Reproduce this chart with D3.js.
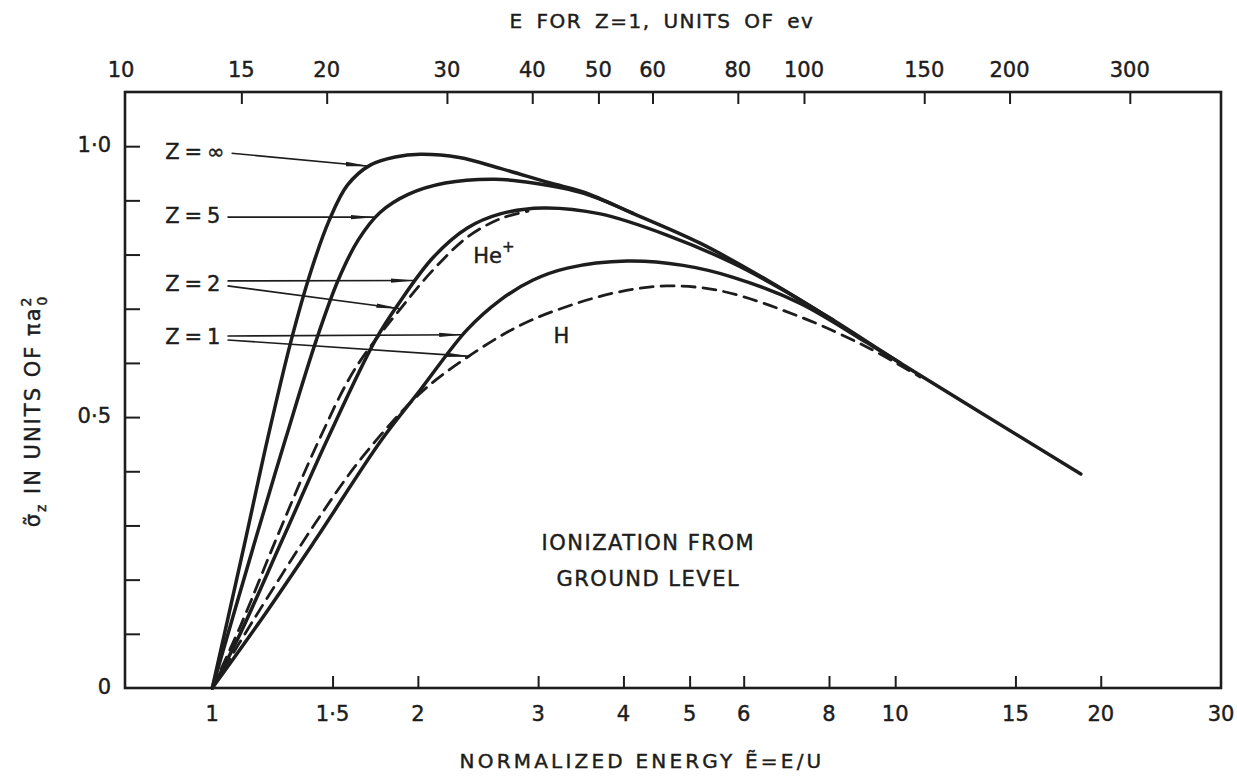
<!DOCTYPE html>
<html>
<head>
<meta charset="utf-8">
<title>ionization from ground level</title>
<script src="https://d3js.org/d3.v7.min.js"></script>
<style>
  body { margin: 0; background: #fff; }
  text { font-family: "DejaVu Sans", sans-serif; fill: #1d1d1d; stroke: #1d1d1d; stroke-width: 0.45px; }
  .tick line { stroke: #1d1d1d; stroke-width: 2; }
</style>
</head>
<body>
<div id="chart"></div>
<script>
// normalized energy E/U and cross section (units of pi a0^2)
var zInfE = [1, 1.118, 1.204, 1.305, 1.396, 1.483, 1.577, 1.703, 1.853, 2.016, 2.3, 2.64, 3.125, 3.5, 4.13, 5.18, 6.49, 8.11, 10.17, 18.7];
var zInfS = [0, 0.273, 0.458, 0.642, 0.771, 0.863, 0.928, 0.965, 0.980, 0.985, 0.979, 0.959, 0.932, 0.915, 0.876, 0.821, 0.753, 0.679, 0.600, 0.395];

var z5E = [1, 1.156, 1.279, 1.42, 1.529, 1.636, 1.762, 1.936, 2.193, 2.596, 2.95, 3.5, 4.13];
var z5S = [0, 0.273, 0.458, 0.642, 0.753, 0.827, 0.878, 0.911, 0.932, 0.939, 0.932, 0.913, 0.876];

var z2E = [1, 1.088, 1.266, 1.473, 1.733, 1.885, 2.107, 2.363, 2.64, 3.05, 3.70, 4.63, 5.79, 6.8, 8.11];
var z2S = [0, 0.089, 0.273, 0.458, 0.642, 0.714, 0.795, 0.849, 0.875, 0.886, 0.875, 0.836, 0.784, 0.737, 0.679];

var heE = [1, 1.10, 1.25, 1.43, 1.62, 1.90, 2.107, 2.363, 2.64, 2.9];
var heS = [0, 0.115, 0.285, 0.455, 0.59, 0.705, 0.772, 0.832, 0.866, 0.88];

var z1E = [1, 1.2, 1.415, 1.77, 2.016, 2.36, 2.64, 2.95, 3.31, 4.05, 4.89, 5.79, 7.26, 9.1, 10.17];
var z1S = [0, 0.14, 0.273, 0.458, 0.55, 0.661, 0.716, 0.753, 0.775, 0.788, 0.780, 0.758, 0.710, 0.637, 0.600];

var hE = [1, 1.156, 1.415, 1.658, 2.016, 2.36, 2.82, 3.34, 3.94, 4.63, 5.55, 7.26, 9.1, 10.88];
var hS = [0, 0.131, 0.304, 0.426, 0.544, 0.610, 0.669, 0.706, 0.731, 0.742, 0.733, 0.685, 0.629, 0.574];

var bottomLabels = [1, 1.5, 2, 3, 4, 5, 6, 8, 10, 15, 20, 30];
var bottomTicks = [1.5, 2, 3, 4, 5, 6, 8, 10, 15, 20];
var topLabels = [10, 15, 20, 30, 40, 50, 60, 80, 100, 150, 200, 300];
var topTicks = [15, 20, 30, 40, 50, 60, 80, 100, 150, 200, 300];
var leftTicks = [0.1, 0.2, 0.3, 0.4, 0.5, 0.6, 0.7, 0.8, 0.9, 1.0];
var leftLabels = [0, 0.5, 1.0];

// Z labels and where their arrows point
var zNames = ["Z=\u221e", "Z=5", "Z=2", "Z=1"];
var zLabelS = [0.987, 0.869, 0.744, 0.646];
var arrowOf = [0, 1, 2, 2, 3, 3];
var arrowE = [1.70, 1.73, 1.98, 1.885, 2.33, 2.385];
var arrowS = [0.963, 0.869, 0.752, 0.70, 0.652, 0.612];
var arrowDy = [0, 0, -4, 1, -2, 2];

var margin = {top: 92, right: 16, bottom: 88, left: 125},
    width = 1237 - margin.left - margin.right,
    height = 776 - margin.top - margin.bottom;

var x = d3.scaleLog().domain([0.745, 30]).range([0, width]);
var xTop = d3.scaleLog().domain([0.745 * 13.6, 30 * 13.6]).range([0, width]);
var y = d3.scaleLinear().domain([0, 1.1]).range([height, 0]);

var root = d3.select("#chart").append("svg")
    .attr("width", 1237)
    .attr("height", 776);

root.append("defs").append("marker")
    .attr("id", "head")
    .attr("viewBox", "0 -3 24 6")
    .attr("refX", 24).attr("refY", 0)
    .attr("markerWidth", 24).attr("markerHeight", 6)
    .attr("markerUnits", "userSpaceOnUse")
    .attr("orient", "auto")
  .append("path")
    .attr("d", "M0,-2.2L24,0L0,2.2Z")
    .attr("fill", "#1d1d1d");

var svg = root.append("g")
    .attr("transform", "translate(" + margin.left + "," + margin.top + ")");

// ticks point inward
svg.append("g")
    .attr("transform", "translate(0," + height + ")")
    .call(d3.axisBottom(x).tickValues(bottomTicks).tickSize(-12).tickFormat(""))
    .call(function(g) { g.select(".domain").remove(); });
svg.append("g")
    .call(d3.axisTop(xTop).tickValues(topTicks).tickSize(-12).tickFormat(""))
    .call(function(g) { g.select(".domain").remove(); });
svg.append("g")
    .call(d3.axisLeft(y).tickValues(leftTicks).tickSize(-15).tickFormat(""))
    .call(function(g) { g.select(".domain").remove(); });

svg.append("rect")
    .attr("width", width).attr("height", height)
    .attr("fill", "none")
    .attr("stroke", "#1d1d1d")
    .attr("stroke-width", 2.6);

svg.selectAll(".blab").data(bottomLabels).enter().append("text")
    .attr("x", function(d) { return x(d); })
    .attr("y", height + 27)
    .attr("text-anchor", "middle")
    .attr("dominant-baseline", "middle")
    .style("font-size", "21px")
    .text(function(d) { return String(d).replace(".", "\u00b7"); });

svg.selectAll(".tlab").data(topLabels).enter().append("text")
    .attr("x", function(d) { return xTop(d); })
    .attr("y", -21)
    .attr("text-anchor", "middle")
    .attr("dominant-baseline", "middle")
    .style("font-size", "21px")
    .text(function(d) { return d; });

svg.selectAll(".llab").data(leftLabels).enter().append("text")
    .attr("x", -14)
    .attr("y", function(d) { return y(d); })
    .attr("text-anchor", "end")
    .attr("dominant-baseline", "middle")
    .style("font-size", "21px")
    .text(function(d) { return d === 0 ? "0" : d.toFixed(1).replace(".", "\u00b7"); });

// curves
var series = [
  {e: zInfE, s: zInfS, dash: false},
  {e: z5E, s: z5S, dash: false},
  {e: z2E, s: z2S, dash: false},
  {e: z1E, s: z1S, dash: false},
  {e: heE, s: heS, dash: true},
  {e: hE, s: hS, dash: true}
];

var line = d3.line()
    .x(function(d) { return x(d[0]); })
    .y(function(d) { return y(d[1]); })
    .curve(d3.curveCatmullRom.alpha(0.5));

svg.selectAll(".curve").data(series).enter().append("path")
    .attr("d", function(d) { return line(d3.zip(d.e, d.s)); })
    .attr("fill", "none")
    .attr("stroke", "#1d1d1d")
    .attr("stroke-width", function(d) { return d.dash ? 2.8 : 3.5; })
    .attr("stroke-dasharray", function(d) { return d.dash ? "13,8" : null; })
    .attr("stroke-linecap", "round");

// Z labels with arrows
var labelX = x(0.853);
var ends = [];
zNames.forEach(function(n, i) {
  var t = svg.append("text")
      .attr("x", labelX)
      .attr("y", y(zLabelS[i]))
      .attr("dominant-baseline", "middle")
      .style("font-size", "21px")
      .style("letter-spacing", "5px")
      .text(n);
  ends.push(labelX + t.node().getComputedTextLength() + 2);
});

arrowE.forEach(function(e, i) {
  var k = arrowOf[i];
  svg.append("line")
      .attr("x1", ends[k])
      .attr("y1", y(zLabelS[k]) + arrowDy[i])
      .attr("x2", x(e))
      .attr("y2", y(arrowS[i]))
      .attr("stroke", "#1d1d1d")
      .attr("stroke-width", 1.6)
      .attr("marker-end", "url(#head)");
});

var he = svg.append("text")
    .attr("x", x(2.41)).attr("y", y(0.795))
    .attr("dominant-baseline", "middle")
    .style("font-size", "21px");
he.append("tspan").text("He");
he.append("tspan").attr("dy", -10).style("font-size", "15px").text("+");

svg.append("text")
    .attr("x", x(3.16)).attr("y", y(0.648))
    .attr("dominant-baseline", "middle")
    .style("font-size", "21px")
    .text("H");

svg.append("text")
    .attr("x", x(4.35)).attr("y", y(0.266))
    .attr("text-anchor", "middle")
    .attr("dominant-baseline", "middle")
    .style("font-size", "21px")
    .style("letter-spacing", "1.5px")
    .text("IONIZATION FROM");
svg.append("text")
    .attr("x", x(4.35)).attr("y", y(0.200))
    .attr("text-anchor", "middle")
    .attr("dominant-baseline", "middle")
    .style("font-size", "21px")
    .style("letter-spacing", "1.5px")
    .text("GROUND LEVEL");

// axis titles
root.append("text")
    .attr("x", 662).attr("y", 22)
    .attr("text-anchor", "middle")
    .attr("dominant-baseline", "middle")
    .style("font-size", "20px")
    .style("letter-spacing", "1.5px")
    .style("word-spacing", "5px")
    .text("E FOR Z=1, UNITS OF ev");

root.append("text")
    .attr("x", 642).attr("y", 762)
    .attr("text-anchor", "middle")
    .attr("dominant-baseline", "middle")
    .style("font-size", "20px")
    .style("letter-spacing", "3.2px")
    .text("NORMALIZED ENERGY \u1ebc=E/U");

var ylab = root.append("text")
    .attr("transform", "translate(40,411) rotate(-90)")
    .attr("text-anchor", "middle")
    .style("font-size", "21px")
    .style("letter-spacing", "2px");
ylab.append("tspan").text("\u03c3\u0303");
ylab.append("tspan").attr("dy", 6).style("font-size", "14px").text("z");
ylab.append("tspan").attr("dy", -6).text(" IN UNITS OF \u03c0a");
ylab.append("tspan").attr("dy", -9).style("font-size", "14px").text("2");
ylab.append("tspan").attr("dx", -10).attr("dy", 16).style("font-size", "14px").text("0");
</script>
</body>
</html>
